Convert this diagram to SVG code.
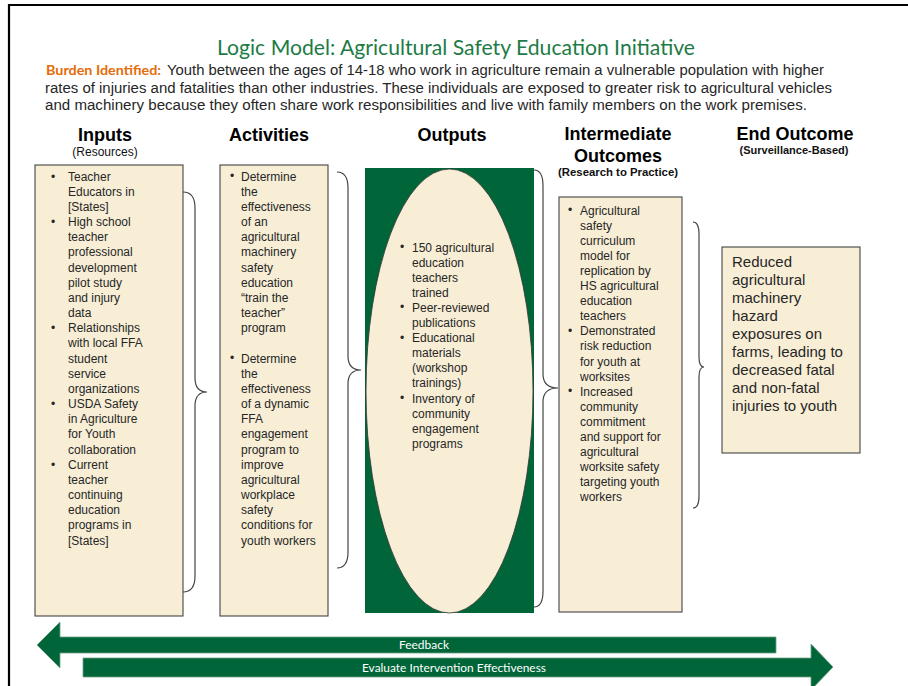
<svg xmlns="http://www.w3.org/2000/svg" width="908" height="686" viewBox="0 0 908 686">
  <style>
    .frame { fill: none; stroke: #000; stroke-width: 2.2; }
    .box { fill: #F8EED6; stroke: #444; stroke-width: 1.1; }
    .body { font-family: "Liberation Sans", Arial, sans-serif; font-size: 12px; fill: #262626; }
    .big { font-family: "Liberation Sans", Arial, sans-serif; font-size: 15px; fill: #262626; }
    .head { font-family: "Liberation Sans", Arial, sans-serif; font-size: 18px; font-weight: bold; fill: #000; text-anchor: middle; }
    .sub { font-family: "Liberation Sans", Arial, sans-serif; font-size: 12px; fill: #111; text-anchor: middle; }
    .subb { font-family: "Liberation Sans", Arial, sans-serif; font-weight: bold; fill: #111; text-anchor: middle; }
    .title { font-family: Lato, "Open Sans", sans-serif; font-size: 21.5px; fill: #1E7B45; }
    .burden { font-family: Lato, "Open Sans", sans-serif; font-size: 13.5px; font-weight: bold; fill: #E46C0A; }
    .intro { font-family: "Liberation Sans", Arial, sans-serif; font-size: 14px; fill: #262626; }
    .brace { fill: none; stroke: #444; stroke-width: 1.2; }
    .band { fill: #00663A; stroke: #6E9F82; stroke-width: 0.8; }
    .bandtxt { font-family: Lato, "Open Sans", sans-serif; font-size: 11px; fill: #fff; text-anchor: middle; }
  </style>

  <!-- page frame -->
  <path class="frame" d="M9 686 V5 H908"/>

  <!-- heading and problem statement -->
  <g id="heading">
    <text class="title" x="217" y="55" textLength="478" lengthAdjust="spacingAndGlyphs">Logic Model: Agricultural Safety Education Initiative</text>
    <text class="burden" x="46" y="75" textLength="115" lengthAdjust="spacingAndGlyphs">Burden Identified:</text>
    <text class="intro" x="167" y="75" textLength="657" lengthAdjust="spacingAndGlyphs">Youth between the ages of 14-18 who work in agriculture remain a vulnerable population with higher</text>
    <text class="intro" x="45" y="92.5" textLength="787" lengthAdjust="spacingAndGlyphs">rates of injuries and fatalities than other industries. These individuals are exposed to greater risk to agricultural vehicles</text>
    <text class="intro" x="45" y="110" textLength="762" lengthAdjust="spacingAndGlyphs">and machinery because they often share work responsibilities and live with family members on the work premises.</text>
  </g>

  <!-- column headers -->
  <g id="headers">
    <text class="head" x="105" y="141">Inputs</text>
    <text class="sub" x="105" y="156">(Resources)</text>
    <text class="head" x="269" y="141">Activities</text>
    <text class="head" x="452" y="141">Outputs</text>
    <text class="head" x="618" y="140">Intermediate</text>
    <text class="head" x="618" y="162">Outcomes</text>
    <text class="subb" x="618" y="176" font-size="11.5" textLength="120" lengthAdjust="spacingAndGlyphs">(Research to Practice)</text>
    <text class="head" x="795" y="140">End Outcome</text>
    <text class="subb" x="794" y="154" font-size="10" textLength="109" lengthAdjust="spacingAndGlyphs">(Surveillance-Based)</text>
  </g>

  <!-- Inputs -->
  <g id="inputs">
    <rect class="box" x="35" y="165" width="148" height="451"/>
    <text class="body">
      <tspan x="51" y="180.5">•</tspan>
      <tspan x="51" y="226">•</tspan>
      <tspan x="51" y="332.2">•</tspan>
      <tspan x="51" y="408.1">•</tspan>
      <tspan x="51" y="468.7">•</tspan>
    </text>
    <text class="body">
      <tspan x="68" y="180.5">Teacher</tspan>
      <tspan x="68" dy="15.17">Educators in</tspan>
      <tspan x="68" dy="15.17">[States]</tspan>
      <tspan x="68" dy="15.17">High school</tspan>
      <tspan x="68" dy="15.17">teacher</tspan>
      <tspan x="68" dy="15.17">professional</tspan>
      <tspan x="68" dy="15.17">development</tspan>
      <tspan x="68" dy="15.17">pilot study</tspan>
      <tspan x="68" dy="15.17">and injury</tspan>
      <tspan x="68" dy="15.17">data</tspan>
      <tspan x="68" dy="15.17">Relationships</tspan>
      <tspan x="68" dy="15.17">with local FFA</tspan>
      <tspan x="68" dy="15.17">student</tspan>
      <tspan x="68" dy="15.17">service</tspan>
      <tspan x="68" dy="15.17">organizations</tspan>
      <tspan x="68" dy="15.17">USDA Safety</tspan>
      <tspan x="68" dy="15.17">in Agriculture</tspan>
      <tspan x="68" dy="15.17">for Youth</tspan>
      <tspan x="68" dy="15.17">collaboration</tspan>
      <tspan x="68" dy="15.17">Current</tspan>
      <tspan x="68" dy="15.17">teacher</tspan>
      <tspan x="68" dy="15.17">continuing</tspan>
      <tspan x="68" dy="15.17">education</tspan>
      <tspan x="68" dy="15.17">programs in</tspan>
      <tspan x="68" dy="15.17">[States]</tspan>
    </text>
  </g>

  <!-- Activities -->
  <g id="activities">
    <rect class="box" x="220" y="165" width="108" height="451"/>
    <text class="body" font-size="10">
      <tspan x="230" y="180">•</tspan>
      <tspan x="230" y="362">•</tspan>
    </text>
    <text class="body">
      <tspan x="241" y="180.5">Determine</tspan>
      <tspan x="241" dy="15.17">the</tspan>
      <tspan x="241" dy="15.17">effectiveness</tspan>
      <tspan x="241" dy="15.17">of an</tspan>
      <tspan x="241" dy="15.17">agricultural</tspan>
      <tspan x="241" dy="15.17">machinery</tspan>
      <tspan x="241" dy="15.17">safety</tspan>
      <tspan x="241" dy="15.17">education</tspan>
      <tspan x="241" dy="15.17">“train the</tspan>
      <tspan x="241" dy="15.17">teacher”</tspan>
      <tspan x="241" dy="15.17">program</tspan>
      <tspan x="241" dy="30.34">Determine</tspan>
      <tspan x="241" dy="15.17">the</tspan>
      <tspan x="241" dy="15.17">effectiveness</tspan>
      <tspan x="241" dy="15.17">of a dynamic</tspan>
      <tspan x="241" dy="15.17">FFA</tspan>
      <tspan x="241" dy="15.17">engagement</tspan>
      <tspan x="241" dy="15.17">program to</tspan>
      <tspan x="241" dy="15.17">improve</tspan>
      <tspan x="241" dy="15.17">agricultural</tspan>
      <tspan x="241" dy="15.17">workplace</tspan>
      <tspan x="241" dy="15.17">safety</tspan>
      <tspan x="241" dy="15.17">conditions for</tspan>
      <tspan x="241" dy="15.17">youth workers</tspan>
    </text>
  </g>

  <!-- Outputs -->
  <g id="outputs">
    <rect x="365" y="168" width="169" height="445" fill="#00663A"/>
    <ellipse cx="449.5" cy="391" rx="83.5" ry="222" fill="#F8EED6" stroke="#333" stroke-width="0.8"/>
    <text class="body" font-size="10">
      <tspan x="400" y="251">•</tspan>
      <tspan x="400" y="311.4">•</tspan>
      <tspan x="400" y="341.6">•</tspan>
      <tspan x="400" y="402">•</tspan>
    </text>
    <text class="body">
      <tspan x="412" y="251.5">150 agricultural</tspan>
      <tspan x="412" dy="15.1">education</tspan>
      <tspan x="412" dy="15.1">teachers</tspan>
      <tspan x="412" dy="15.1">trained</tspan>
      <tspan x="412" dy="15.1">Peer-reviewed</tspan>
      <tspan x="412" dy="15.1">publications</tspan>
      <tspan x="412" dy="15.1">Educational</tspan>
      <tspan x="412" dy="15.1">materials</tspan>
      <tspan x="412" dy="15.1">(workshop</tspan>
      <tspan x="412" dy="15.1">trainings)</tspan>
      <tspan x="412" dy="15.1">Inventory  of</tspan>
      <tspan x="412" dy="15.1">community</tspan>
      <tspan x="412" dy="15.1">engagement</tspan>
      <tspan x="412" dy="15.1">programs</tspan>
    </text>
  </g>

  <!-- Intermediate outcomes -->
  <g id="intermediate">
    <rect class="box" x="559" y="197" width="123" height="415"/>
    <text class="body" font-size="10">
      <tspan x="568" y="214">•</tspan>
      <tspan x="568" y="334.8">•</tspan>
      <tspan x="568" y="395.2">•</tspan>
    </text>
    <text class="body">
      <tspan x="580" y="214.5">Agricultural</tspan>
      <tspan x="580" dy="15.1">safety</tspan>
      <tspan x="580" dy="15.1">curriculum</tspan>
      <tspan x="580" dy="15.1">model for</tspan>
      <tspan x="580" dy="15.1">replication by</tspan>
      <tspan x="580" dy="15.1">HS agricultural</tspan>
      <tspan x="580" dy="15.1">education</tspan>
      <tspan x="580" dy="15.1">teachers</tspan>
      <tspan x="580" dy="15.1">Demonstrated</tspan>
      <tspan x="580" dy="15.1">risk reduction</tspan>
      <tspan x="580" dy="15.1">for youth at</tspan>
      <tspan x="580" dy="15.1">worksites</tspan>
      <tspan x="580" dy="15.1">Increased</tspan>
      <tspan x="580" dy="15.1">community</tspan>
      <tspan x="580" dy="15.1">commitment</tspan>
      <tspan x="580" dy="15.1">and support for</tspan>
      <tspan x="580" dy="15.1">agricultural</tspan>
      <tspan x="580" dy="15.1">worksite safety</tspan>
      <tspan x="580" dy="15.1">targeting youth</tspan>
      <tspan x="580" dy="15.1">workers</tspan>
    </text>
  </g>

  <!-- End outcome -->
  <g id="end-outcome">
    <rect class="box" x="722" y="247" width="138" height="206"/>
    <text class="big">
      <tspan x="732" y="266.5">Reduced</tspan>
      <tspan x="732" dy="18.1">agricultural</tspan>
      <tspan x="732" dy="18.1">machinery</tspan>
      <tspan x="732" dy="18.1">hazard</tspan>
      <tspan x="732" dy="18.1">exposures on</tspan>
      <tspan x="732" dy="18.1">farms, leading to</tspan>
      <tspan x="732" dy="18.1">decreased fatal</tspan>
      <tspan x="732" dy="18.1">and non-fatal</tspan>
      <tspan x="732" dy="18.1">injuries to youth</tspan>
    </text>
  </g>

  <!-- braces linking each column to the next -->
  <g id="connectors">
    <path class="brace" d="M183 192 Q195 192 195 208 L195 378 Q195 392 207 392 Q195 392 195 406 L195 576 Q195 592 183 592"/>
    <path class="brace" d="M337 172 Q348 172 348 188 L348 356 Q348 370 361 370 Q348 370 348 384 L348 552 Q348 568 337 568"/>
    <path class="brace" d="M534 170 Q543 170 543 186 L543 374 Q543 388 558 388 Q543 388 543 402 L543 591 Q543 607 534 607"/>
    <path class="brace" d="M693 222 Q699 222 699 234 L699 357 Q699 367 704 367 Q699 367 699 377 L699 496 Q699 508 693 508"/>
  </g>

  <!-- feedback loop bands -->
  <g id="feedback">
    <polygon class="band" points="37,645 60,622 60,637 776,637 776,653 60,653 60,668"/>
    <text class="bandtxt" x="424" y="649" textLength="50" lengthAdjust="spacingAndGlyphs">Feedback</text>
  </g>
  <g id="evaluate">
    <polygon class="band" points="83,658 811,658 811,644 833,667 811,690 811,677 83,677"/>
    <text class="bandtxt" x="454" y="671.5" textLength="184" lengthAdjust="spacingAndGlyphs">Evaluate Intervention Effectiveness</text>
  </g>
</svg>
